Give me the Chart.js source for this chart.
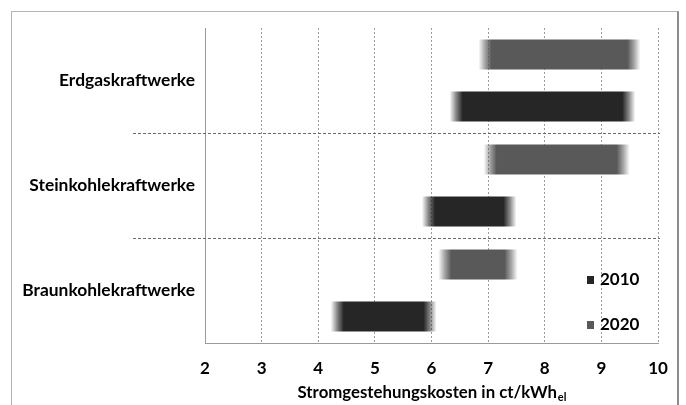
<!DOCTYPE html>
<html>
<head>
<meta charset="utf-8">
<script src="https://cdn.jsdelivr.net/npm/chart.js@4/dist/chart.umd.min.js"></script>
<style>
  body { margin: 0; background: #fff; }
  .wrap { position: relative; width: 686px; height: 405px; overflow: hidden; }
  .frame {
    position: absolute; left: 11px; top: 11px; width: 665px; height: 420px;
    border: 1px solid #b4b4b4; border-right: 2px solid #8c8c8c;
  }
  canvas { position: absolute; left: 0; top: 0; }
</style>
</head>
<body>
<div class="wrap">
  <div class="frame"></div>
  <canvas id="chart" width="686" height="405"></canvas>
</div>
<script>
// Daten
const categories = ['Erdgaskraftwerke', 'Steinkohlekraftwerke', 'Braunkohlekraftwerke'];
const costs2020 = [[6.83, 9.69], [6.92, 9.50], [6.12, 7.52]];
const costs2010 = [[6.32, 9.60], [5.83, 7.50], [4.22, 6.09]];
const xTicks = [2, 3, 4, 5, 6, 7, 8, 9, 10];
const axisTitle = 'Stromgestehungskosten in ct/kWh';
const axisTitleSub = 'el';

const FONT = 'Lato, "Open Sans", sans-serif';

// Balken mit weichen Enden
function fadeFill(rgb) {
    return (c) => {
        const chart = c.chart;
        const x = chart.scales.x;
        if (!chart.chartArea || !x || !Array.isArray(c.raw)) return `rgb(${rgb})`;
        const x0 = x.getPixelForValue(c.raw[0]);
        const x1 = x.getPixelForValue(c.raw[1]);
        const g = chart.ctx.createLinearGradient(x0, 0, x1, 0);
        const f = Math.min(0.4, 13 / (x1 - x0));
        g.addColorStop(0, `rgba(${rgb},0)`);
        g.addColorStop(f * 0.5, `rgba(${rgb},0.55)`);
        g.addColorStop(f, `rgba(${rgb},1)`);
        g.addColorStop(1 - f, `rgba(${rgb},1)`);
        g.addColorStop(1 - f * 0.5, `rgba(${rgb},0.55)`);
        g.addColorStop(1, `rgba(${rgb},0)`);
        return g;
    };
}

// Trennlinien zwischen den Kategorien
const separators = {
    id: 'separators',
    afterDatasetsDraw(chart) {
        const { ctx, scales: { y }, chartArea } = chart;
        ctx.save();
        ctx.strokeStyle = '#6a6a6a';
        ctx.lineWidth = 1;
        ctx.setLineDash([3, 2]);
        for (let i = 0; i < categories.length - 1; i++) {
            const py = Math.round((y.getPixelForValue(i) + y.getPixelForValue(i + 1)) / 2) + 0.5;
            ctx.beginPath();
            ctx.moveTo(133, py);
            ctx.lineTo(chartArea.right + 2, py);
            ctx.stroke();
        }
        ctx.restore();
    }
};

// Legende im Diagramm + Achsentitel mit Index
const extras = {
    id: 'extras',
    afterDraw(chart) {
        const { ctx, chartArea } = chart;
        ctx.save();
        ctx.font = `bold 17px ${FONT}`;
        ctx.textBaseline = 'middle';
        const legend = [
            { label: '2010', color: '#262626', y: 280 },
            { label: '2020', color: '#595959', y: 325 }
        ];
        legend.forEach(item => {
            ctx.fillStyle = item.color;
            ctx.fillRect(chartArea.right - 71, item.y - 4, 7, 8);
            ctx.fillStyle = '#000';
            ctx.fillText(item.label, chartArea.right - 58, item.y);
        });

        const mainFont = `bold 16.8px ${FONT}`;
        const subFont = `bold 11px ${FONT}`;
        ctx.font = mainFont;
        const w1 = ctx.measureText(axisTitle).width;
        ctx.font = subFont;
        const w2 = ctx.measureText(axisTitleSub).width;
        const cx = (chartArea.left + chartArea.right) / 2;
        const x0 = cx - (w1 + w2) / 2;
        ctx.textBaseline = 'alphabetic';
        ctx.fillStyle = '#000';
        ctx.font = mainFont;
        ctx.fillText(axisTitle, x0, 398);
        ctx.font = subFont;
        ctx.fillText(axisTitleSub, x0 + w1 + 1, 401);
        ctx.restore();
    }
};

new Chart(document.getElementById('chart'), {
    type: 'bar',
    data: {
        labels: categories,
        datasets: [
            { label: '2020', data: costs2020, backgroundColor: fadeFill('89,89,89') },
            { label: '2010', data: costs2010, backgroundColor: fadeFill('38,38,38') }
        ]
    },
    options: {
        indexAxis: 'y',
        responsive: false,
        animation: false,
        categoryPercentage: 0.99,
        barPercentage: 0.58,
        layout: { padding: { top: 28, right: 28, left: 0, bottom: 0 } },
        plugins: {
            legend: { display: false },
            tooltip: { enabled: false }
        },
        scales: {
            x: {
                min: 2,
                max: 10,
                afterBuildTicks: (scale) => { scale.ticks = xTicks.map(v => ({ value: v })); },
                afterFit: (scale) => { scale.height = 62; },
                grid: { color: '#9a9a9a', drawTicks: false },
                border: { display: true, color: '#9a9a9a', dash: [2, 2] },
                ticks: {
                    padding: 15,
                    color: '#000',
                    font: { family: FONT, size: 17, weight: 'bold' }
                }
            },
            y: {
                afterFit: (scale) => { scale.width = 205; },
                grid: { display: false, drawTicks: false },
                border: { display: true, color: '#9a9a9a' },
                ticks: {
                    padding: 10,
                    color: '#000',
                    font: { family: FONT, size: 17.4, weight: 'bold' }
                }
            }
        }
    },
    plugins: [separators, extras]
});
</script>
</body>
</html>
